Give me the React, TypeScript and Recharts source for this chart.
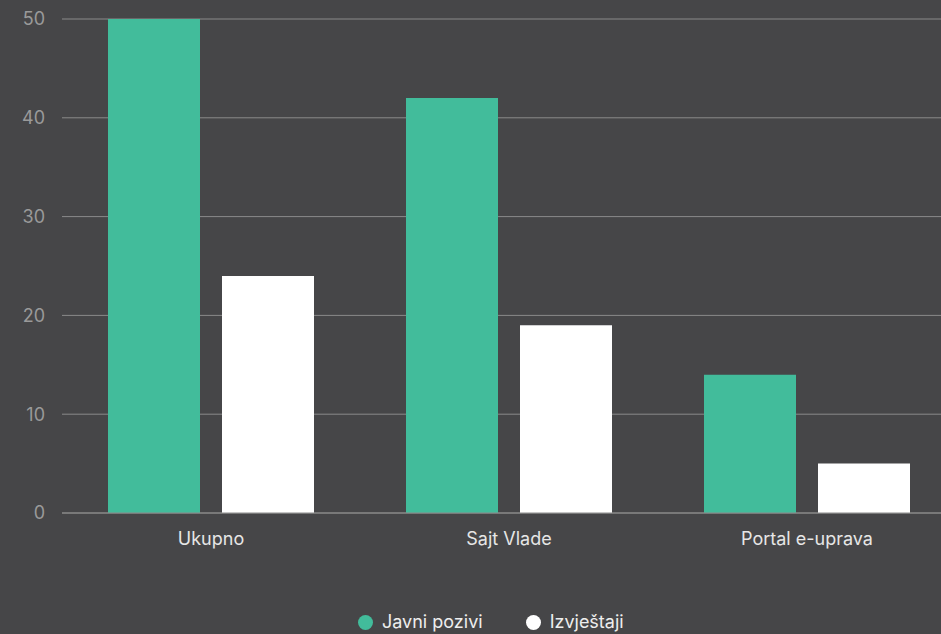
import React from "react";
import { BarChart, Bar, XAxis, YAxis, CartesianGrid, Legend } from "recharts";

const categories = ["Ukupno", "Sajt Vlade", "Portal e-uprava"];
const javniPozivi = [50, 42, 14];
const izvjestaji = [24, 19, 5];
const yTicks = [0, 10, 20, 30, 40, 50];
const seriesNames = ["Javni pozivi", "Izvještaji"];
const seriesColors = ["#42bc9b", "#ffffff"];

const data = categories.map((c, i) => ({
  name: c,
  javni: javniPozivi[i],
  izvj: izvjestaji[i],
}));

const FONT = "Inter, 'DejaVu Sans', sans-serif";

const LegendContent = () => (
  <div
    style={{
      display: "flex",
      alignItems: "center",
      fontFamily: FONT,
      fontSize: 18,
      color: "#eeeeee",
      lineHeight: "20px",
      paddingTop: 8,
    }}
  >
    {seriesNames.map((n, i) => (
      <div key={n} style={{ display: "flex", alignItems: "center", marginRight: i === 0 ? 43 : 0 }}>
        <span
          style={{
            display: "inline-block",
            width: 15,
            height: 15,
            borderRadius: "50%",
            background: seriesColors[i],
            marginRight: 9,
          }}
        />
        <span>{n}</span>
      </div>
    ))}
  </div>
);

export default function App() {
  return (
    <div
      style={{
        position: "absolute",
        left: 0,
        top: 0,
        width: 941,
        height: 634,
        overflow: "hidden",
        background: "#464648",
      }}
    >
      <BarChart
        width={956}
        height={634}
        data={data}
        margin={{ top: 19, right: 0, left: 0, bottom: 0 }}
        barCategoryGap={46}
        barGap={22}
      >
        <CartesianGrid vertical={false} stroke="#8a8a8a" strokeWidth={1} />
        <XAxis
          dataKey="name"
          height={93}
          axisLine={{ stroke: "#8a8a8a" }}
          tickLine={false}
          tickMargin={13}
          tick={{ fill: "#e6e6e6", fontSize: 18, fontFamily: FONT }}
        />
        <YAxis
          width={62}
          domain={[0, 50]}
          ticks={yTicks}
          axisLine={false}
          tickLine={false}
          tickSize={0}
          tickMargin={17}
          tick={{ fill: "#9a9a9a", fontSize: 18, fontFamily: FONT }}
        />
        <Legend
          verticalAlign="bottom"
          content={<LegendContent />}
          wrapperStyle={{ left: 358, width: 320, bottom: 2, height: 28 }}
        />
        <Bar dataKey="javni" name={seriesNames[0]} fill={seriesColors[0]} isAnimationActive={false} />
        <Bar dataKey="izvj" name={seriesNames[1]} fill={seriesColors[1]} isAnimationActive={false} />
      </BarChart>
    </div>
  );
}
